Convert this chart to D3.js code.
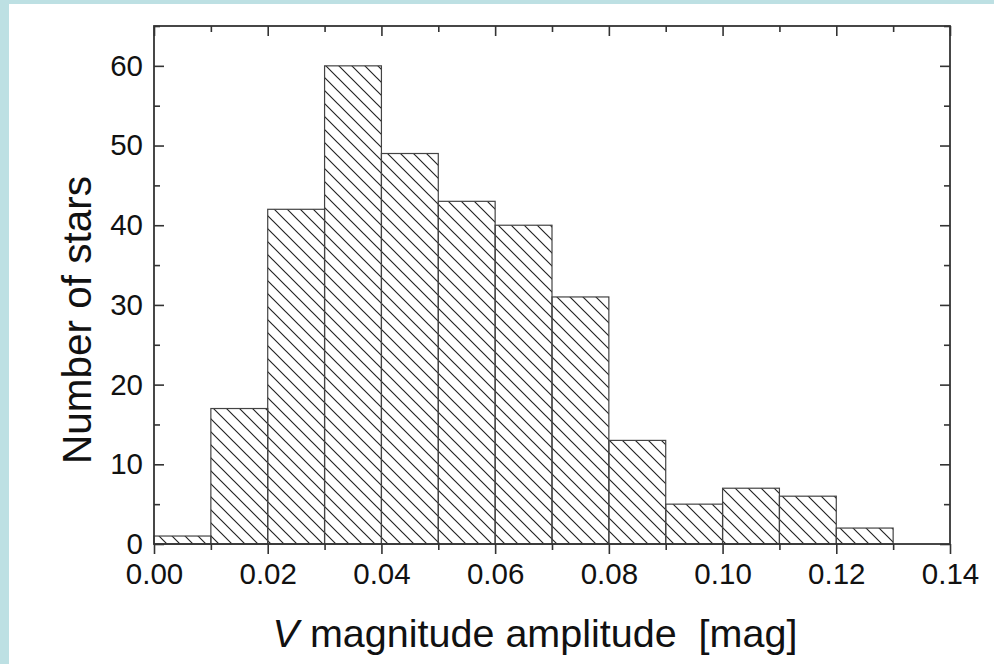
<!DOCTYPE html>
<html>
<head>
<meta charset="utf-8">
<script src="https://cdn.jsdelivr.net/npm/d3@7"></script>
<style>
  html, body { margin: 0; padding: 0; background: #bde0e3; }
  svg { display: block; }
  text { font-family: "Liberation Sans", Arial, sans-serif; fill: #111; }
</style>
</head>
<body>
<svg id="chart" width="994" height="664"></svg>
<script>
// Histogram of V-band amplitudes: bin edges (mag) and star counts per bin
const binStarts = [0.00, 0.01, 0.02, 0.03, 0.04, 0.05, 0.06, 0.07, 0.08, 0.09, 0.10, 0.11, 0.12];
const binWidth = 0.01;
const counts = [1, 17, 42, 60, 49, 43, 40, 31, 13, 5, 7, 6, 2];

const xTicks = [0.00, 0.02, 0.04, 0.06, 0.08, 0.10, 0.12, 0.14];
const xMinorTicks = [0.01, 0.03, 0.05, 0.07, 0.09, 0.11, 0.13];
const yTicks = [0, 10, 20, 30, 40, 50, 60];
const yMinorTicks = [5, 15, 25, 35, 45, 55, 65];

const xTitleItalic = "V";
const xTitleRest = " magnitude amplitude  [mag]";
const yTitle = "Number of stars";

const svg = d3.select("#chart");

// white panel inside the tinted frame
svg.append("rect").attr("x", 9).attr("y", 4).attr("width", 985).attr("height", 660).attr("fill", "#fff");

const plot = { left: 154, right: 950, top: 26, bottom: 544 };

const x = d3.scaleLinear().domain([0, 0.14]).range([plot.left, plot.right]);
const y = d3.scaleLinear().domain([0, 65]).range([plot.bottom, plot.top]);

// diagonal hatch fill
const defs = svg.append("defs");
const hatch = defs.append("pattern")
  .attr("id", "hatch")
  .attr("patternUnits", "userSpaceOnUse")
  .attr("width", 13).attr("height", 13);
hatch.append("path")
  .attr("d", "M0,0 L13,13 M-2,11 L2,15 M11,-2 L15,2")
  .attr("stroke", "#222").attr("stroke-width", 1.15).attr("fill", "none");

// bars
svg.append("g").selectAll("rect")
  .data(binStarts.map((s, i) => ({ s, c: counts[i] })))
  .join("rect")
  .attr("x", d => x(d.s))
  .attr("y", d => y(d.c))
  .attr("width", d => x(d.s + binWidth) - x(d.s))
  .attr("height", d => y(0) - y(d.c))
  .attr("fill", "url(#hatch)")
  .attr("stroke", "#444")
  .attr("stroke-width", 1.2);

const axisColor = "#333";
const fmtX = d3.format(".2f");

// bottom axis: ticks point outward
const axBottom = svg.append("g").attr("transform", `translate(0,${plot.bottom})`);
axBottom.call(d3.axisBottom(x).tickValues(xTicks).tickSize(10).tickSizeOuter(0).tickFormat(fmtX).tickPadding(9));
axBottom.append("g").call(d3.axisBottom(x).tickValues(xMinorTicks).tickSize(6).tickSizeOuter(0).tickFormat(""));

// top axis: ticks point inward
const axTop = svg.append("g").attr("transform", `translate(0,${plot.top})`);
axTop.call(d3.axisBottom(x).tickValues(xTicks).tickSize(10).tickSizeOuter(0).tickFormat(""));
axTop.append("g").call(d3.axisBottom(x).tickValues(xMinorTicks).tickSize(6).tickSizeOuter(0).tickFormat(""));

// left axis: ticks point inward, labels outside
const axLeft = svg.append("g").attr("transform", `translate(${plot.left},0)`);
axLeft.call(d3.axisRight(y).tickValues(yTicks).tickSize(10).tickSizeOuter(0).tickFormat(""));
axLeft.append("g").call(d3.axisRight(y).tickValues(yMinorTicks).tickSize(6).tickSizeOuter(0).tickFormat(""));
axLeft.append("g").call(d3.axisLeft(y).tickValues(yTicks).tickSize(0).tickSizeOuter(0).tickPadding(11));

// right axis: ticks point inward
const axRight = svg.append("g").attr("transform", `translate(${plot.right},0)`);
axRight.call(d3.axisLeft(y).tickValues(yTicks).tickSize(10).tickSizeOuter(0).tickFormat(""));
axRight.append("g").call(d3.axisLeft(y).tickValues(yMinorTicks).tickSize(6).tickSizeOuter(0).tickFormat(""));

// shared axis styling
svg.selectAll(".domain").attr("stroke", "none");
svg.selectAll(".tick line").attr("stroke", axisColor).attr("stroke-width", 1.6);
svg.selectAll(".tick text")
  .attr("font-family", "'Liberation Sans', Arial, sans-serif")
  .attr("font-size", 29.5)
  .attr("fill", "#111");

// frame
svg.append("rect")
  .attr("x", plot.left).attr("y", plot.top)
  .attr("width", plot.right - plot.left).attr("height", plot.bottom - plot.top)
  .attr("fill", "none").attr("stroke", axisColor).attr("stroke-width", 1.8);

// axis titles
const xt = svg.append("text")
  .attr("x", 535).attr("y", 647)
  .attr("text-anchor", "middle")
  .attr("font-size", 39.5);
xt.append("tspan").attr("font-style", "italic").text(xTitleItalic);
xt.append("tspan").style("white-space", "pre").text(xTitleRest);

svg.append("text")
  .attr("transform", "translate(91,320) rotate(-90)")
  .attr("text-anchor", "middle")
  .attr("font-size", 40.5)
  .text(yTitle);
</script>
</body>
</html>
